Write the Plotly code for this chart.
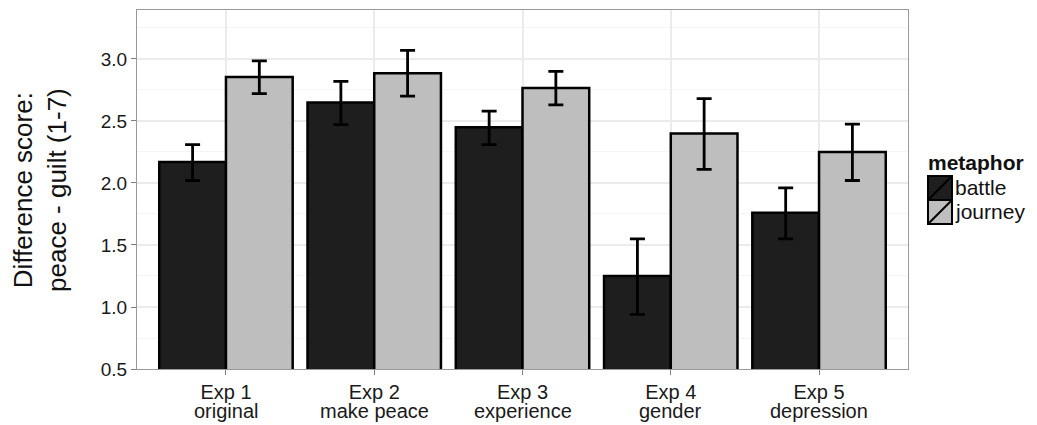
import plotly.graph_objects as go

# ---- data ----
experiments = ["Exp 1", "Exp 2", "Exp 3", "Exp 4", "Exp 5"]
descriptions = ["original", "make peace", "experience", "gender", "depression"]
series_names = ["battle", "journey"]
battle_mean = [2.17, 2.65, 2.45, 1.25, 1.76]
battle_upper = [2.31, 2.82, 2.58, 1.55, 1.96]
battle_lower = [2.02, 2.47, 2.31, 0.94, 1.55]
journey_mean = [2.855, 2.885, 2.765, 2.40, 2.25]
journey_upper = [2.985, 3.07, 2.90, 2.68, 2.475]
journey_lower = [2.72, 2.70, 2.63, 2.11, 2.02]
y_ticks = [0.5, 1.0, 1.5, 2.0, 2.5, 3.0]

fills = {"battle": "#1e1e1e", "journey": "#bebebe"}

# page body has an 8px default margin; figure is sized/offset to compensate
OFF = 8
W, H = 1037 - OFF, 425 - OFF
PL, PR, PT, PB = 137, 908, 10, 369          # panel edges in page pixels
L, R, T, B = PL - OFF, W - (PR - OFF), PT - OFF, H - (PB - OFF)
PW, PH = PR - PL, PB - PT

def px_x(p):
    return (p - PL) / PW

def px_y(p):
    return (PB - p) / PH

fig = go.Figure()
for name, mean, up, lo in [
    ("battle", battle_mean, battle_upper, battle_lower),
    ("journey", journey_mean, journey_upper, journey_lower),
]:
    fig.add_trace(go.Bar(
        x=experiments, y=mean, name=name,
        marker=dict(color=fills[name], line=dict(color="black", width=2.5)),
        error_y=dict(type="data", symmetric=False,
                     array=[u - m for u, m in zip(up, mean)],
                     arrayminus=[m - l for m, l in zip(mean, lo)],
                     color="black", thickness=2.8, width=7.5),
        base=0, showlegend=False,
    ))

font_family = "Liberation Sans, Arial, sans-serif"

fig.update_layout(
    width=W, height=H,
    margin=dict(l=L, r=R, t=T, b=B, autoexpand=False),
    paper_bgcolor="white", plot_bgcolor="white",
    barmode="group", bargap=0.1, bargroupgap=0,
    font=dict(family=font_family, color="#1a1a1a"),
    xaxis=dict(
        type="category", categoryorder="array", categoryarray=experiments,
        range=[-0.6, 4.6], automargin=False,
        showgrid=True, gridcolor="#ebebeb", gridwidth=1.5,
        ticks="outside", ticklen=5, tickcolor="#7f7f7f", tickwidth=1.2,
        tickfont=dict(size=20, color="#1a1a1a"),
        showline=True, linecolor="#999", linewidth=1, mirror=True,
        zeroline=False,
    ),
    yaxis=dict(
        range=[0.5, 3.395], automargin=False,
        tickvals=y_ticks, ticktext=[f"{v:.1f}" for v in y_ticks],
        showgrid=True, gridcolor="#ebebeb", gridwidth=1.5,
        minor=dict(dtick=0.25, tick0=0.25, showgrid=True, gridcolor="#f5f5f5", gridwidth=1.2),
        ticks="outside", ticklen=5, tickcolor="#7f7f7f", tickwidth=1.2,
        tickfont=dict(size=19, color="#1a1a1a"),
        showline=True, linecolor="#999", linewidth=1, mirror=True,
        zeroline=False,
    ),
)

annotations = [
    dict(text="Difference score:<br>peace - guilt (1-7)", textangle=-90,
         xref="paper", yref="paper", x=px_x(40), y=px_y(190),
         xanchor="center", yanchor="middle", showarrow=False,
         font=dict(size=26, color="#111")),
    dict(text="<b>metaphor</b>", xref="paper", yref="paper",
         x=px_x(926), y=px_y(162), xanchor="left", yanchor="middle",
         showarrow=False, font=dict(size=21, color="#111")),
]
for cat, desc in zip(experiments, descriptions):
    annotations.append(dict(text=desc, xref="x", yref="paper", x=cat, y=px_y(411),
                            xanchor="center", yanchor="middle", showarrow=False,
                            font=dict(size=20, color="#1a1a1a")))

shapes = []
key_tops = [176, 200]
for name, top in zip(series_names, key_tops):
    x0, x1, y0, y1 = 928, 952, top, top + 24
    shapes.append(dict(type="rect", xref="paper", yref="paper",
                       x0=px_x(x0), x1=px_x(x1), y0=px_y(y1), y1=px_y(y0),
                       fillcolor=fills[name], line=dict(color="black", width=2)))
    shapes.append(dict(type="line", xref="paper", yref="paper",
                       x0=px_x(x0 + 1), x1=px_x(x1 - 1), y0=px_y(y1 - 1), y1=px_y(y0 + 1),
                       line=dict(color="black", width=2)))
    annotations.append(dict(text=name, xref="paper", yref="paper",
                            x=px_x(953), y=px_y(top + 12), xanchor="left", yanchor="middle",
                            showarrow=False, font=dict(size=21, color="#111")))

fig.update_layout(annotations=annotations, shapes=shapes)
fig.write_html("out.html")
